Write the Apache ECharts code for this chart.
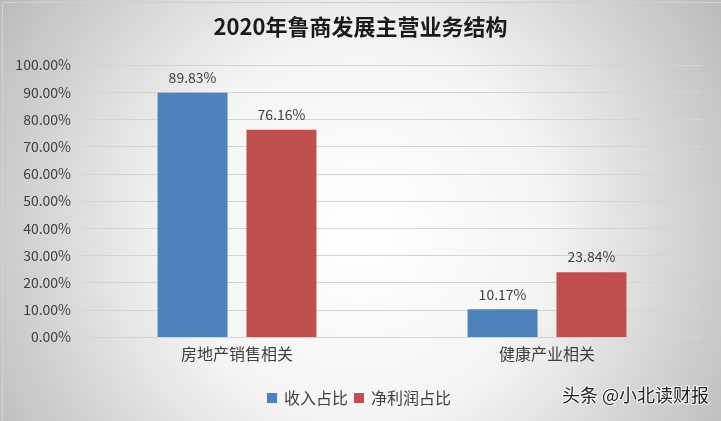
<!DOCTYPE html>
<html>
<head>
<meta charset="utf-8">
<script src="https://cdn.jsdelivr.net/npm/echarts@6/dist/echarts.min.js"></script>
<style>html,body{margin:0;padding:0;}#c{width:721px;height:421px;}</style>
</head>
<body>
<div id="c"></div>
<script>
const titleText = '2020年鲁商发展主营业务结构';
const categories = ['房地产销售相关', '健康产业相关'];
const seriesNames = ['收入占比', '净利润占比'];
const incomeShare = [89.83, 10.17];
const profitShare = [76.16, 23.84];
const yTicks = { min: 0, max: 100, interval: 10 };
const watermark = '头条 @小北读财报';

const chart = echarts.init(document.getElementById('c'));
const font = '"Noto Sans CJK SC", "Noto Sans", sans-serif';
chart.setOption({
  backgroundColor: {
    type: 'radial', x: 0.5, y: 0.55, r: 1.0,
    colorStops: [
      { offset: 0, color: '#ffffff' },
      { offset: 0.45, color: '#f4f4f4' },
      { offset: 1, color: '#bcbcbc' }
    ]
  },
  animation: false,
  title: {
    text: titleText, left: 'center', top: 11,
    textStyle: { fontFamily: font, fontSize: 22, fontWeight: 'bold', color: '#1a1a1a' }
  },
  grid: { left: 82, right: 19, top: 65, bottom: 84 },
  legend: {
    data: seriesNames, left: 262, top: 385,
    itemWidth: 10, itemHeight: 10, itemGap: 6, icon: 'rect',
    textStyle: { fontFamily: font, fontSize: 16, color: '#404040', padding: [0, 0, 0, 2] }
  },
  xAxis: {
    type: 'category', data: categories,
    axisTick: { show: false },
    axisLine: { lineStyle: { color: '#d4d4d4', width: 1 } },
    axisLabel: { margin: 9, color: '#404040', fontFamily: font, fontSize: 16 }
  },
  yAxis: {
    type: 'value', min: yTicks.min, max: yTicks.max, interval: yTicks.interval,
    axisLine: { show: false }, axisTick: { show: false },
    splitLine: { lineStyle: { color: '#d4d4d4', width: 1 } },
    axisLabel: {
      margin: 11, color: '#404040', fontFamily: font, fontSize: 14,
      formatter: v => v.toFixed(2) + '%'
    }
  },
  series: [
    {
      name: seriesNames[0], type: 'bar', data: incomeShare,
      barWidth: 70, barGap: '27%',
      itemStyle: { color: '#4F81BD' },
      label: { show: true, position: 'top', distance: 8, color: '#404040',
        fontFamily: font, fontSize: 14, formatter: p => p.value.toFixed(2) + '%' }
    },
    {
      name: seriesNames[1], type: 'bar', data: profitShare,
      barWidth: 70,
      itemStyle: { color: '#C0504D' },
      label: { show: true, position: 'top', distance: 8, color: '#404040',
        fontFamily: font, fontSize: 14, formatter: p => p.value.toFixed(2) + '%' }
    }
  ],
  graphic: [
    { type: 'rect', left: 0, top: 0, shape: { width: 720, height: 420 }, silent: true,
      style: { fill: 'none', stroke: '#d0d0d0', lineWidth: 1 } },
    { type: 'text', right: 11, top: 385, silent: true,
      style: { text: watermark, fill: '#222', font: '18px ' + font,
        stroke: 'rgba(255,255,255,0.9)', lineWidth: 2 } }
  ]
});
</script>
</body>
</html>
